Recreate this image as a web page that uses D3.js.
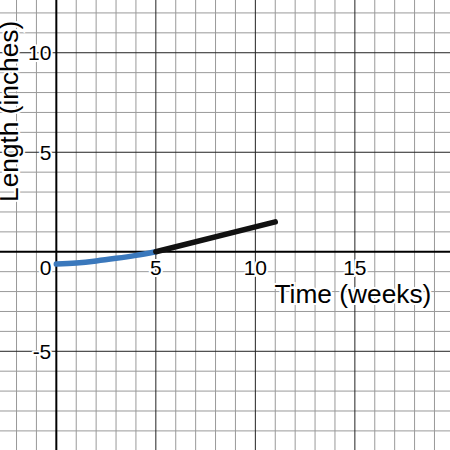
<!DOCTYPE html>
<html>
<head>
<meta charset="utf-8">
<script src="https://cdn.jsdelivr.net/npm/d3@7"></script>
<style>
  html, body { margin: 0; padding: 0; background: #fff; }
  svg { display: block; }
  text { font-family: "Liberation Sans", Arial, sans-serif; }
</style>
</head>
<body>
<div id="chart"></div>
<script>
// Chart data
const blueX = [0, 1, 2, 3, 4, 5];
const blueY = [-0.62, -0.56, -0.46, -0.33, -0.18, 0];
const blackX = [5, 11];
const blackY = [0, 1.5];
const xTickValues = [5, 10, 15];
const yTickValues = [-5, 5, 10];
const xTitle = "Time (weeks)";
const yTitle = "Length (inches)";

const width = 450;
const height = 450;

const svg = d3.select("#chart")
  .append("svg")
  .attr("width", width)
  .attr("height", height);

// Scales (about 19.9 px per unit, origin near 56,252)
const xScale = d3.scaleLinear()
  .domain([-2.83, 19.78])
  .range([0, width]);

const yScale = d3.scaleLinear()
  .domain([-9.96, 12.65])
  .range([height, 0]);

const x0 = xScale(0);
const y0 = yScale(0);

// Grid lines
const xs = d3.range(Math.ceil(xScale.domain()[0]), Math.floor(xScale.domain()[1]) + 1);
const ys = d3.range(Math.ceil(yScale.domain()[0]), Math.floor(yScale.domain()[1]) + 1);

const grid = svg.append("g");

grid.selectAll(".vminor")
  .data(xs.filter(d => d % 5 !== 0))
  .enter()
  .append("line")
  .attr("x1", d => xScale(d))
  .attr("x2", d => xScale(d))
  .attr("y1", 0)
  .attr("y2", height)
  .attr("stroke", "#999")
  .attr("stroke-width", 1);

grid.selectAll(".hminor")
  .data(ys.filter(d => d % 5 !== 0))
  .enter()
  .append("line")
  .attr("y1", d => yScale(d))
  .attr("y2", d => yScale(d))
  .attr("x1", 0)
  .attr("x2", width)
  .attr("stroke", "#999")
  .attr("stroke-width", 1);

grid.selectAll(".vmajor")
  .data(xs.filter(d => d % 5 === 0 && d !== 0))
  .enter()
  .append("line")
  .attr("x1", d => xScale(d))
  .attr("x2", d => xScale(d))
  .attr("y1", 0)
  .attr("y2", height)
  .attr("stroke", "#222")
  .attr("stroke-width", 1);

grid.selectAll(".hmajor")
  .data(ys.filter(d => d % 5 === 0 && d !== 0))
  .enter()
  .append("line")
  .attr("y1", d => yScale(d))
  .attr("y2", d => yScale(d))
  .attr("x1", 0)
  .attr("x2", width)
  .attr("stroke", "#222")
  .attr("stroke-width", 1);

// Axes
svg.append("line")
  .attr("x1", 0).attr("x2", width)
  .attr("y1", y0).attr("y2", y0)
  .attr("stroke", "#000")
  .attr("stroke-width", 2);

svg.append("line")
  .attr("x1", x0).attr("x2", x0)
  .attr("y1", 0).attr("y2", height)
  .attr("stroke", "#000")
  .attr("stroke-width", 2);

// Tick labels with white halo
const labels = svg.append("g")
  .attr("font-size", 21)
  .attr("fill", "#000")
  .attr("stroke", "#fff")
  .attr("stroke-width", 4)
  .attr("paint-order", "stroke")
  .attr("stroke-linejoin", "round");

labels.selectAll(".xlab")
  .data(xTickValues)
  .enter()
  .append("text")
  .attr("x", d => xScale(d))
  .attr("y", y0 + 23)
  .attr("text-anchor", "middle")
  .text(d => d);

labels.append("text")
  .attr("x", x0 - 5)
  .attr("y", y0 + 23)
  .attr("text-anchor", "end")
  .text("0");

labels.selectAll(".ylab")
  .data(yTickValues)
  .enter()
  .append("text")
  .attr("x", x0 - 5)
  .attr("y", d => yScale(d) + 7.5)
  .attr("text-anchor", "end")
  .text(d => d < 0 ? "-" + Math.abs(d) : d);

// Curves
const line = d3.line()
  .x(d => xScale(d[0]))
  .y(d => yScale(d[1]));

svg.append("path")
  .datum(blueX.map((x, i) => [x, blueY[i]]))
  .attr("d", line.curve(d3.curveMonotoneX))
  .attr("fill", "none")
  .attr("stroke", "#3a78bc")
  .attr("stroke-width", 5.5)
  .attr("stroke-linecap", "round");

svg.append("path")
  .datum(blackX.map((x, i) => [x, blackY[i]]))
  .attr("d", line.curve(d3.curveLinear))
  .attr("fill", "none")
  .attr("stroke", "#111")
  .attr("stroke-width", 5.5)
  .attr("stroke-linecap", "round");

// Axis titles
svg.append("text")
  .attr("x", 274.5)
  .attr("y", 303)
  .attr("font-size", 26.3)
  .attr("fill", "#000")
  .attr("stroke", "#fff")
  .attr("stroke-width", 4)
  .attr("paint-order", "stroke")
  .text(xTitle);

svg.append("text")
  .attr("transform", "translate(18,202) rotate(-90)")
  .attr("font-size", 26.3)
  .attr("fill", "#000")
  .attr("stroke", "#fff")
  .attr("stroke-width", 4)
  .attr("paint-order", "stroke")
  .text(yTitle);
</script>
</body>
</html>
